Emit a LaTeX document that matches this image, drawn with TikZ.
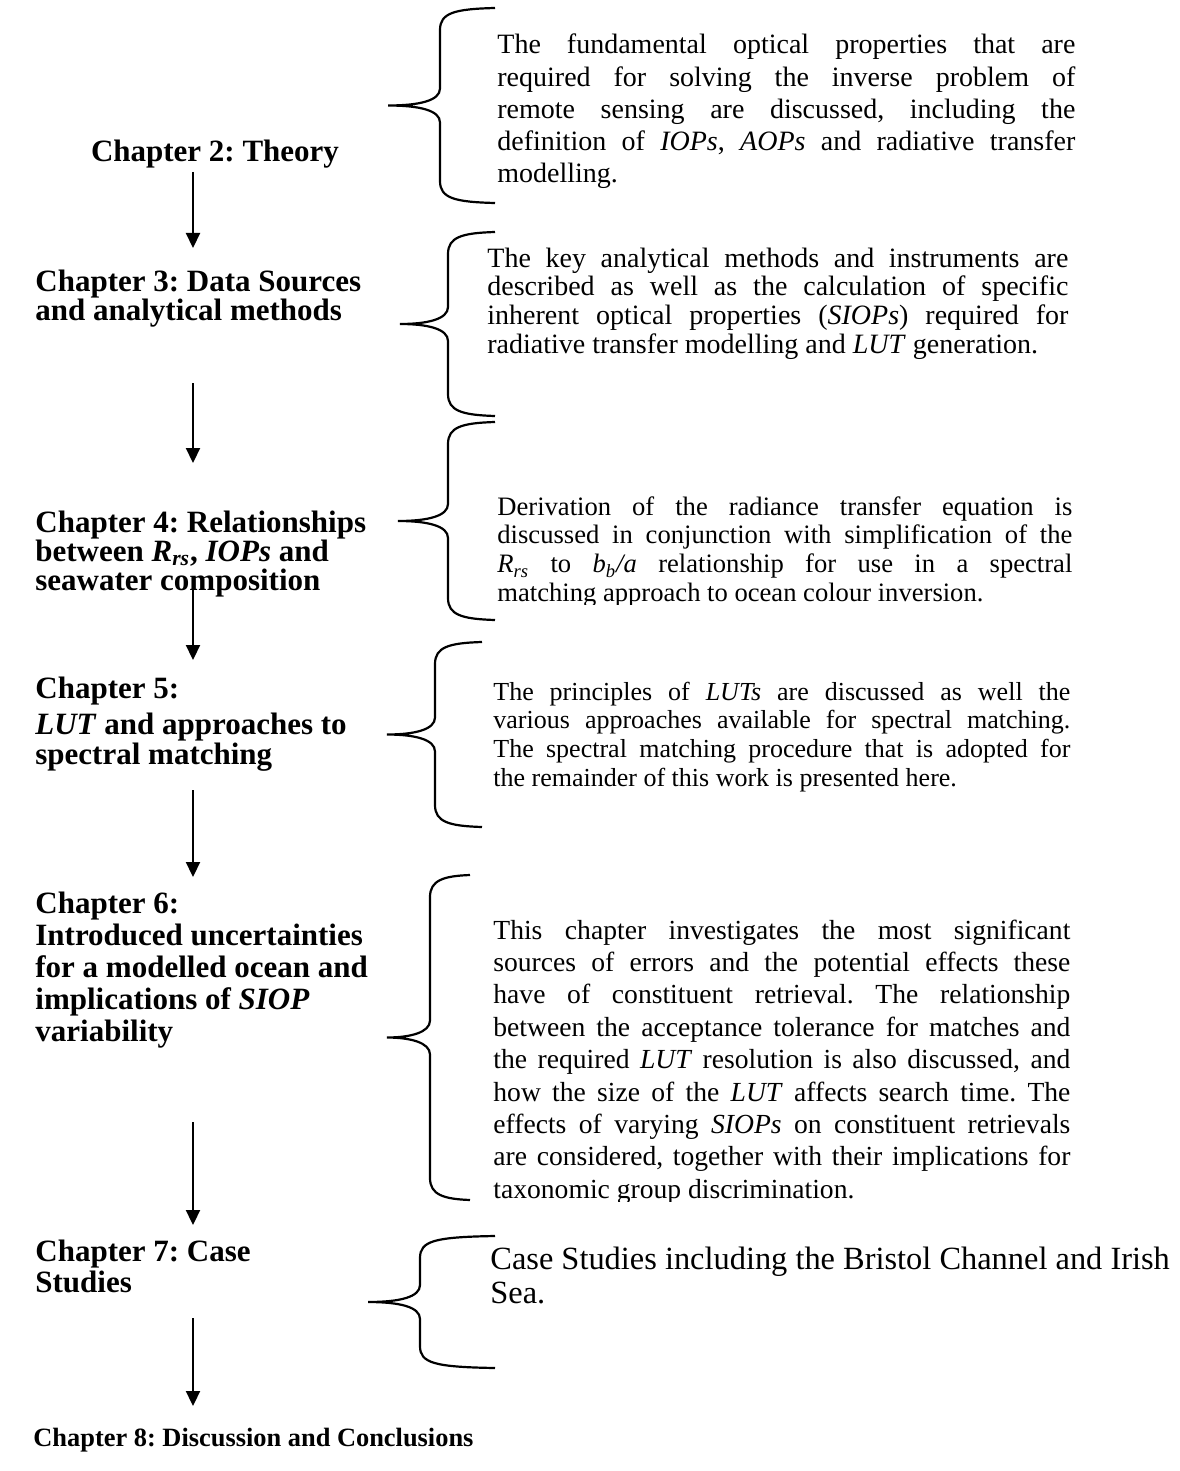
\documentclass[tikz,border=0pt]{standalone}
\usepackage{fontspec}
\setmainfont{Liberation Serif}
\usetikzlibrary{arrows.meta}
\frenchspacing
\newcommand\jline[1]{\makebox[\linewidth][s]{#1}\\}
\newcommand\lastline[1]{\makebox[\linewidth][l]{#1}}
\newcommand\drawbrace[5]{%
  \pgfmathsetmacro\bmid{(#4+#5)/2}%
  \draw[bracestyle] (#1,#4) .. controls ({#2+14},{#4+1}) and (#2,{#4+5}) .. (#2,{#4+22})
    -- (#2,{\bmid-17}) .. controls (#2,{\bmid-5}) and ({#2-20},\bmid) .. (#3,\bmid)
    .. controls ({#2-20},\bmid) and (#2,{\bmid+5}) .. (#2,{\bmid+17})
    -- (#2,{#5-22}) .. controls (#2,{#5-5}) and ({#2+14},{#5-1}) .. (#1,#5);}
\tikzset{
  bracestyle/.style={line width=1.1pt},
  arr/.style={line width=1.1pt,-{Triangle[length=7.5pt,width=7pt]}},
  desc/.style={anchor=base west,inner sep=0pt},
  chap/.style={anchor=base west,inner sep=0pt},
}
\newcommand\tfont{\bfseries\fontsize{15.5}{14.5}\selectfont}
\begin{document}
\begin{tikzpicture}[x=0.5pt,y=-0.5pt]
\useasboundingbox (0,0) rectangle (1179,1471);
% chapter titles
\node[chap,anchor=base] (c2) at (215,162) {\tfont Chapter 2: Theory};
\node[chap] (c3) at (35,291) {\parbox[t]{230pt}{\tfont Chapter 3: Data Sources\\and analytical methods}};
\node[chap] (c4) at (35,532) {\parbox[t]{230pt}{\tfont\baselineskip=14.5pt Chapter 4: Relationships\\between \textit{R\textsubscript{rs}}, \textit{IOPs} and\\seawater composition}};
\node[chap] (c5) at (35,698) {\parbox[t]{230pt}{\tfont Chapter 5:\\[3.5pt]\textit{LUT} and approaches to\\[0.5pt]spectral matching}};
\node[chap] (c6) at (35,913) {\parbox[t]{230pt}{\tfont\baselineskip=16pt Chapter 6:\\Introduced uncertainties\\for a modelled ocean and\\implications of \textit{SIOP}\\variability}};
\node[chap] (c7) at (35,1261) {\parbox[t]{230pt}{\tfont\baselineskip=15.5pt Chapter 7: Case\\Studies}};
\node[chap] (c8) at (33,1446) {\bfseries\fontsize{13.2}{15}\selectfont Chapter 8: Discussion and Conclusions};
% arrows
\coordinate (a1s) at (193,172); \coordinate (a1e) at (193,248);
\coordinate (a2s) at (193,383); \coordinate (a2e) at (193,463);
\coordinate (a3s) at (193,578); \coordinate (a3e) at (193,660);
\coordinate (a4s) at (193,790); \coordinate (a4e) at (193,877);
\coordinate (a5s) at (193,1122); \coordinate (a5e) at (193,1225);
\coordinate (a6s) at (193,1318); \coordinate (a6e) at (193,1406);
\draw[arr] (a1s) -- (a1e);
\draw[arr] (a2s) -- (a2e);
\draw[arr] (a3s) -- (a3e);
\draw[arr] (a4s) -- (a4e);
\draw[arr] (a5s) -- (a5e);
\draw[arr] (a6s) -- (a6e);
% braces
\drawbrace{495}{440}{388}{8}{203}
\drawbrace{495}{448}{400}{232}{416}
\drawbrace{495}{448}{398}{422}{620}
\drawbrace{482}{435}{387}{642}{827}
\drawbrace{470}{430}{387}{875}{1200}
\drawbrace{495}{420}{368}{1236}{1368}
% descriptions
\node[desc] (d1) at (497,54) {\parbox[t]{289pt}{\fontsize{14}{16.1}\selectfont
\jline{The fundamental optical properties that are}
\jline{required for solving the inverse problem of}
\jline{remote sensing are discussed, including the}
\jline{definition of \textit{IOPs}, \textit{AOPs} and radiative transfer}
\lastline{modelling.}}};
\node[desc] (d2) at (487,267) {\parbox[t]{290.5pt}{\fontsize{14}{14.35}\selectfont
\jline{The key analytical methods and instruments are}
\jline{described as well as the calculation of specific}
\jline{inherent optical properties (\textit{SIOPs}) required for}
\lastline{radiative transfer modelling and \textit{LUT} generation.}}};
\begin{scope}
\clip (480,480) rectangle (1100,604);
\node[desc] (d3) at (497,515) {\parbox[t]{287.5pt}{\fontsize{13.3}{14.45}\selectfont
\jline{Derivation of the radiance transfer equation is}
\jline{discussed in conjunction with simplification of the}
\jline{\textit{R\textsubscript{rs}} to \textit{b\textsubscript{b}/a} relationship for use in a spectral}
\lastline{matching approach to ocean colour inversion.}}};
\end{scope}
\node[desc] (d4) at (493,700) {\parbox[t]{288.5pt}{\fontsize{13}{14.4}\selectfont
\jline{The principles of \textit{LUTs} are discussed as well the}
\jline{various approaches available for spectral matching.}
\jline{The spectral matching procedure that is adopted for}
\lastline{the remainder of this work is presented here.}}};
\begin{scope}
\clip (480,900) rectangle (1100,1201);
\node[desc] (d5) at (493,939) {\parbox[t]{288.5pt}{\fontsize{13.8}{16.2}\selectfont
\jline{This chapter investigates the most significant}
\jline{sources of errors and the potential effects these}
\jline{have of constituent retrieval. The relationship}
\jline{between the acceptance tolerance for matches and}
\jline{the required \textit{LUT} resolution is also discussed, and}
\jline{how the size of the \textit{LUT} affects search time. The}
\jline{effects of varying \textit{SIOPs} on constituent retrievals}
\jline{are considered, together with their implications for}
\lastline{taxonomic group discrimination.}}};
\end{scope}
\node[desc] (d6) at (490,1269) {\parbox[t]{345pt}{\fontsize{16.2}{17}\selectfont
Case Studies including the Bristol Channel and Irish\\Sea.}};
\end{tikzpicture}
\end{document}
